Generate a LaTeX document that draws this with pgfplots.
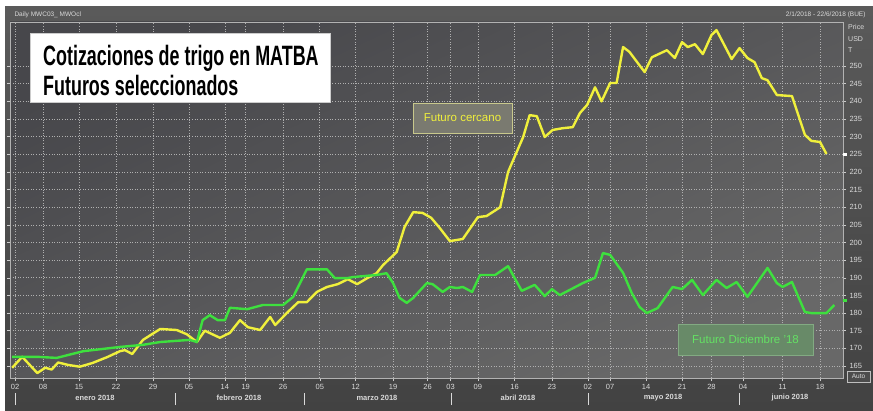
\documentclass[border=0pt]{standalone}
\usepackage{fontspec}
\setmainfont{Liberation Sans}
\newfontfamily\titlefont[FakeStretch=0.64]{Liberation Sans}
\usepackage{pgfplots}
\pgfplotsset{compat=1.18}

\definecolor{frameA}{HTML}{5A5A5A}
\definecolor{frameB}{HTML}{424242}
\definecolor{plotA}{HTML}{686868}
\definecolor{plotB}{HTML}{47474B}
\definecolor{gridc}{HTML}{B0B0B0}
\definecolor{lbl}{HTML}{DADADA}
\definecolor{amarillo}{HTML}{F0F03C}
\definecolor{verde}{HTML}{3EE03E}

\begin{document}
\begin{tikzpicture}[x=1pt,y=1pt]
\path[use as bounding box] (0,0) rectangle (873,410);
\fill[white] (0,0) rectangle (873,410);
\shade[top color=frameA, bottom color=frameB] (5,0) rectangle (873,403);

\begin{axis}[
  at={(10pt,32pt)}, anchor=south west,
  width=833pt, height=356pt, scale only axis,
  xmin=-0.7, xmax=115.2, ymin=161.6, ymax=262.5,
  axis line style={draw=gray!60, line width=0.6pt},
  axis background/.style={shade, bottom color=plotA, top color=plotB, shading angle=25},
  xtick={0,3.9,8.9,14.05,19.2,24.2,29.2,32.1,37.3,42.4,47.4,52.6,57.4,60.6,64.4,69.5,74.7,79.7,82.8,87.8,92.8,96.9,101.3,106.8,112.0},
  xticklabels={02,08,15,22,29,05,14,19,26,05,12,19,26,03,09,16,23,02,07,14,21,28,04,11,18},
  ytick={165,170,...,250},
  yticklabel pos=right,
  tick align=outside, major tick length=3pt,
  tick style={draw=gray!40, line width=0.5pt},
  xtick pos=bottom,
  ticklabel style={font=\fontsize{7.5}{8}\selectfont, text=lbl},
  /pgf/number format/assume math mode=true,
  grid=major,
  major grid style={draw=gridc, dash pattern=on 1pt off 1.6pt, line width=0.6pt},
  clip=false,
]

% Futuro cercano
\addplot[amarillo, line width=2.4pt, line join=round] coordinates {
(-0.4,164.5)(1.0,167.6)(3.1,163.0)(4.2,164.5)(5.1,164.0)(6.0,166.0)(7.4,165.3)
(9.0,164.8)(10.7,165.8)(12.8,167.5)(14.6,169.2)(15.3,169.5)(16.3,168.4)(17.8,172.4)
(20.2,175.5)(22.5,175.2)(23.9,174.0)(25.3,171.8)(26.4,175.0)(28.5,173.0)(29.9,174.4)
(31.3,178.0)(32.4,176.0)(34.1,175.2)(35.5,178.9)(36.2,176.6)(37.8,180.0)(39.4,183.1)
(40.6,183.1)(42.0,186.0)(43.4,187.4)(44.9,188.2)(46.3,189.6)(47.6,188.2)(49.0,189.9)
(50.3,191.3)(51.2,193.6)(53.1,197.3)(54.2,204.4)(55.4,208.6)(56.7,208.4)(57.9,207.0)
(59.1,204.1)(60.5,200.4)(62.3,201.0)(64.4,207.2)(65.6,207.5)(67.5,210.0)(68.6,220.0)
(70.7,229.9)(71.6,236.1)(72.6,235.8)(73.7,229.9)(74.8,231.9)(76.2,232.4)(77.6,232.7)
(78.6,236.7)(79.6,239.0)(80.7,244.0)(81.6,240.0)(82.8,245.2)(83.7,245.2)(84.6,255.4)
(85.5,254.0)(87.6,248.3)(88.6,252.5)(90.7,254.5)(91.8,252.3)(92.8,256.8)(93.6,255.4)
(94.6,256.2)(95.7,253.4)(96.9,258.8)(97.6,260.2)(99.7,252.0)(100.8,255.1)(101.9,252.3)
(102.9,251.1)(103.9,246.6)(104.7,246.0)(106.0,241.8)(108.1,241.5)(109.9,230.5)
(110.8,228.8)(112.0,228.5)(112.9,225.1)
};

% Futuro Diciembre '18
\addplot[verde, line width=2.4pt, line join=round] coordinates {
(-0.4,167.6)(3.1,167.6)(5.8,167.3)(9.5,169.2)(14.6,170.4)(17.8,171.0)(20.2,171.8)
(24.3,172.4)(25.3,171.8)(26.1,178.0)(27.1,179.4)(28.2,178.0)(29.2,178.0)(29.9,181.5)
(32.3,181.1)(34.5,182.3)(37.3,182.3)(38.7,184.6)(40.6,192.4)(43.4,192.4)(44.5,189.9)
(46.2,189.9)(47.0,190.2)(50.3,190.8)(51.7,191.3)(52.6,188.5)(53.5,184.3)(54.5,182.9)
(55.4,184.3)(57.3,188.5)(58.1,188.2)(59.5,186.0)(60.5,187.4)(61.5,187.1)(62.3,187.4)
(63.6,186.0)(64.7,190.8)(66.8,190.8)(68.6,193.3)(70.5,186.3)(72.3,188.0)(73.7,184.8)
(74.7,186.8)(75.8,185.1)(79.0,188.5)(80.7,190.0)(81.8,197.0)(82.8,196.5)(84.6,191.4)
(85.8,185.7)(86.9,181.7)(87.9,180.0)(89.4,181.4)(91.5,187.4)(92.8,186.8)(94.2,189.4)
(95.7,185.1)(97.6,189.4)(99.0,187.1)(100.4,188.8)(101.9,184.6)(104.7,192.8)(106.0,188.5)
(106.8,187.4)(108.1,188.8)(109.9,180.3)(110.8,180.0)(112.9,180.0)(114.0,182.3)
};

% last-value markers on the price scale
\addplot[white, only marks, mark=square*, mark size=1.2pt, forget plot] coordinates {(115.45,225.1)};
\addplot[verde, only marks, mark=square*, mark size=1.2pt, forget plot] coordinates {(115.45,183.6)};
\end{axis}

% header texts
\node[anchor=west, text=lbl, font=\fontsize{6.5}{7}\selectfont] at (11,395) {Daily MWC03\_ MWOcl};
\node[anchor=east, text=lbl, font=\fontsize{6.5}{7}\selectfont] at (869,395) {2/1/2018 - 22/6/2018 (BUE)};
\node[anchor=west, text=lbl, font=\fontsize{7}{8}\selectfont, inner sep=0pt] at (848,383) {Price};
\node[anchor=west, text=lbl, font=\fontsize{7}{8}\selectfont, inner sep=0pt] at (848,371) {USD};
\node[anchor=west, text=lbl, font=\fontsize{7}{8}\selectfont, inner sep=0pt] at (848,360) {T};
\draw[gray!50, fill=gray!60!black] (847,28) rectangle (870,39);
\node[text=lbl, font=\fontsize{6.5}{7}\selectfont, inner sep=0pt] at (858.5,33.5) {Auto};

% month labels and separators
\foreach \xs in {15,175,304,451,588,739} \draw[lbl, line width=0.6pt] (\xs,5) -- (\xs,17);
\foreach \xm/\mes in {95/enero 2018,239/febrero 2018,377/marzo 2018,518/abril 2018,663/mayo 2018,790/junio 2018}
  \node[text=lbl, font=\bfseries\fontsize{7.5}{8}\selectfont] at (\xm,12) {\mes};

% title box
\fill[white] (30,308) rectangle (330,377);
\draw[gray!40, line width=0.5pt] (30,308) rectangle (330,377);
\node[anchor=base west, inner sep=0pt, font=\titlefont\bfseries\fontsize{28}{30}\selectfont] at (43,344) {Cotizaciones de trigo en MATBA};
\node[anchor=base west, inner sep=0pt, font=\titlefont\bfseries\fontsize{28}{30}\selectfont] at (43,314) {Futuros seleccionados};

% series labels
\draw[draw={rgb,255:red,200;green,200;blue,140}, fill={rgb,255:red,122;green,122;blue,112}, line width=0.8pt] (413,277) rectangle (512,307);
\node[text=amarillo, font=\fontsize{11.5}{12}\selectfont] at (462.5,292) {Futuro cercano};
\draw[draw={rgb,255:red,130;green,170;blue,130}, fill={rgb,255:red,104;green,138;blue,104}, line width=0.8pt] (678,55) rectangle (813,86);
\node[text={rgb,255:red,100;green,225;blue,100}, font=\fontsize{11.5}{12}\selectfont] at (745.5,70.5) {Futuro Diciembre '18};
\end{tikzpicture}
\end{document}
